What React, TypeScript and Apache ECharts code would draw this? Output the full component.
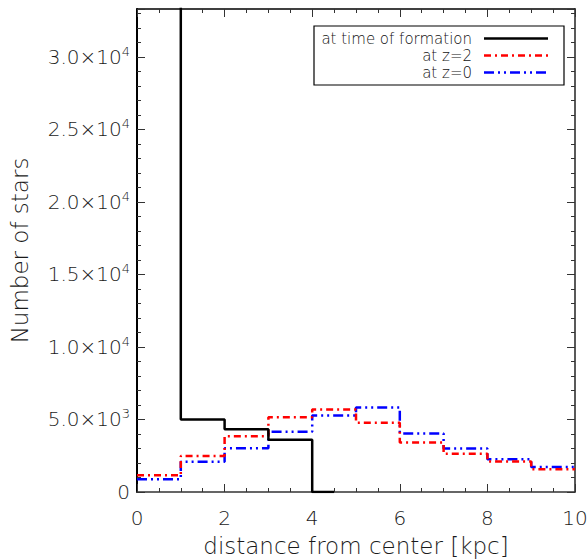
import React, { useEffect, useRef } from "react";
import * as echarts from "echarts";

// Bin edges (kpc) and star counts per bin
const binEdges = [0, 1, 2, 3, 4, 5, 6, 7, 8, 9, 10];
const formationEdges = [0, 1, 2, 3, 4, 4.5];
const atFormation = [40000, 5000, 4330, 3600, 0];
const atZ2 = [1150, 2490, 3850, 5160, 5690, 4770, 3410, 2630, 2100, 1570];
const atZ0 = [880, 2080, 3020, 4150, 5280, 5830, 4040, 3000, 2260, 1730];

const xTicks = [0, 2, 4, 6, 8, 10];
const yTicks = [0, 5000, 10000, 15000, 20000, 25000, 30000];

const legendNames = ["at time of formation", "at z=2", "at z=0"];
const colors = ["#000000", "#ff0000", "#0000ff"];
const dashes: (number[] | "solid")[] = ["solid", [7, 4, 2, 4], [10, 4, 2, 4, 2, 4]];

const FONT = "DejaVu Sans";
const TEXT = "#1a1a1a";

function stepData(edges: number[], vals: number[]) {
  return edges.map((e, i) => [e, vals[Math.min(i, vals.length - 1)]]);
}

function yFmt(v: number) {
  if (!yTicks.includes(v)) return "";
  if (v === 0) return "{m|0}";
  const exp = Math.floor(Math.log10(v));
  const m = v / Math.pow(10, exp);
  return `{m|${m.toFixed(1)}×10}{sup|${exp}}`;
}

export default function App() {
  const ref = useRef<HTMLDivElement>(null);
  useEffect(() => {
    if (!ref.current) return;
    const chart = echarts.init(ref.current, null, { renderer: "svg" });
    const series = [
      { name: legendNames[0], data: stepData(formationEdges, atFormation) },
      { name: legendNames[1], data: stepData(binEdges, atZ2) },
      { name: legendNames[2], data: stepData(binEdges, atZ0) },
    ].map((s, i) => ({
      type: "line" as const,
      name: s.name,
      data: s.data,
      step: "end" as const,
      showSymbol: false,
      symbol: "none",
      clip: true,
      lineStyle: { color: colors[i], width: 2.5, type: dashes[i] as any },
      z: 3 - i,
    }));

    const legendX0 = 314;
    const legendTop = 26;
    const rowYs = [38.5, 55.5, 72.5];
    const graphics: any[] = [
      {
        type: "rect",
        shape: { x: legendX0, y: legendTop, width: 250, height: 59 },
        style: { fill: "#fff", stroke: "#000", lineWidth: 1.2 },
        z: 10,
      },
    ];
    legendNames.forEach((n, i) => {
      graphics.push({
        type: "text",
        x: 472,
        y: rowYs[i],
        style: {
          text: n,
          fill: "#111",
          font: `300 15px "${FONT}"`,
          align: "right",
          verticalAlign: "middle",
        },
        z: 11,
      });
      graphics.push({
        type: "line",
        shape: { x1: 484, y1: rowYs[i], x2: 548, y2: rowYs[i] },
        style: {
          stroke: colors[i],
          lineWidth: 2.5,
          lineDash: dashes[i] === "solid" ? null : dashes[i],
        },
        z: 11,
      });
    });

    const axisFont = { fontFamily: FONT, color: TEXT, fontWeight: 300 };

    chart.setOption({
      animation: false,
      backgroundColor: "#fff",
      grid: {
        left: 137,
        right: 13,
        top: 9,
        bottom: 67,
        containLabel: false,
        outerBoundsMode: "none",
      },
      xAxis: [
        {
          type: "value",
          min: 0,
          max: 10,
          interval: 2,
          position: "bottom",
          name: "distance from center [kpc]",
          nameLocation: "middle",
          nameGap: 42,
          nameTextStyle: { ...axisFont, fontSize: 23 },
          axisLine: { show: true, onZero: false, lineStyle: { color: "#333", width: 1.5 } },
          axisTick: { inside: true, length: 8, lineStyle: { color: "#333" } },
          minorTick: { show: true, splitNumber: 4, length: 4, lineStyle: { color: "#333" } },
          axisLabel: {
            ...axisFont,
            fontSize: 20,
            margin: 16,
            formatter: (v: number) => (xTicks.includes(v) ? String(v) : ""),
          },
          splitLine: { show: false },
        },
        {
          type: "value",
          min: 0,
          max: 10,
          interval: 2,
          position: "top",
          axisLine: { show: true, onZero: false, lineStyle: { color: "#000", width: 1.5 } },
          axisTick: { inside: true, length: 8, lineStyle: { color: "#333" } },
          minorTick: { show: true, splitNumber: 4, length: 4, lineStyle: { color: "#333" } },
          axisLabel: { show: false },
          splitLine: { show: false },
        },
      ],
      yAxis: [
        {
          type: "value",
          min: 0,
          max: 33300,
          interval: 5000,
          position: "left",
          name: "Number of stars",
          nameLocation: "middle",
          nameGap: 106,
          nameTextStyle: { ...axisFont, fontSize: 23 },
          axisLine: { show: true, onZero: false, lineStyle: { color: "#000", width: 2 } },
          axisTick: { inside: true, length: 8, lineStyle: { color: "#333" } },
          minorTick: { show: true, splitNumber: 5, length: 4, lineStyle: { color: "#333" } },
          axisLabel: {
            ...axisFont,
            fontSize: 20,
            margin: 7,
            showMaxLabel: false,
            formatter: yFmt,
            rich: {
              m: { fontFamily: FONT, fontWeight: 300, fontSize: 20, color: TEXT, lineHeight: 24 },
              sup: {
                fontFamily: FONT,
                fontWeight: 300,
                fontSize: 13,
                color: TEXT,
                verticalAlign: "top",
                lineHeight: 14,
                padding: [0, 0, 8, 0],
              },
            },
          },
          splitLine: { show: false },
        },
        {
          type: "value",
          min: 0,
          max: 33300,
          interval: 5000,
          position: "right",
          axisLine: { show: true, onZero: false, lineStyle: { color: "#222", width: 1.5 } },
          axisTick: { inside: true, length: 8, lineStyle: { color: "#333" } },
          minorTick: { show: true, splitNumber: 5, length: 4, lineStyle: { color: "#333" } },
          axisLabel: { show: false },
          splitLine: { show: false },
        },
      ],
      series,
      graphic: graphics,
    });
    return () => chart.dispose();
  }, []);

  return (
    <div
      ref={ref}
      style={{ position: "absolute", left: 0, top: 0, width: 588, height: 559 }}
    />
  );
}
